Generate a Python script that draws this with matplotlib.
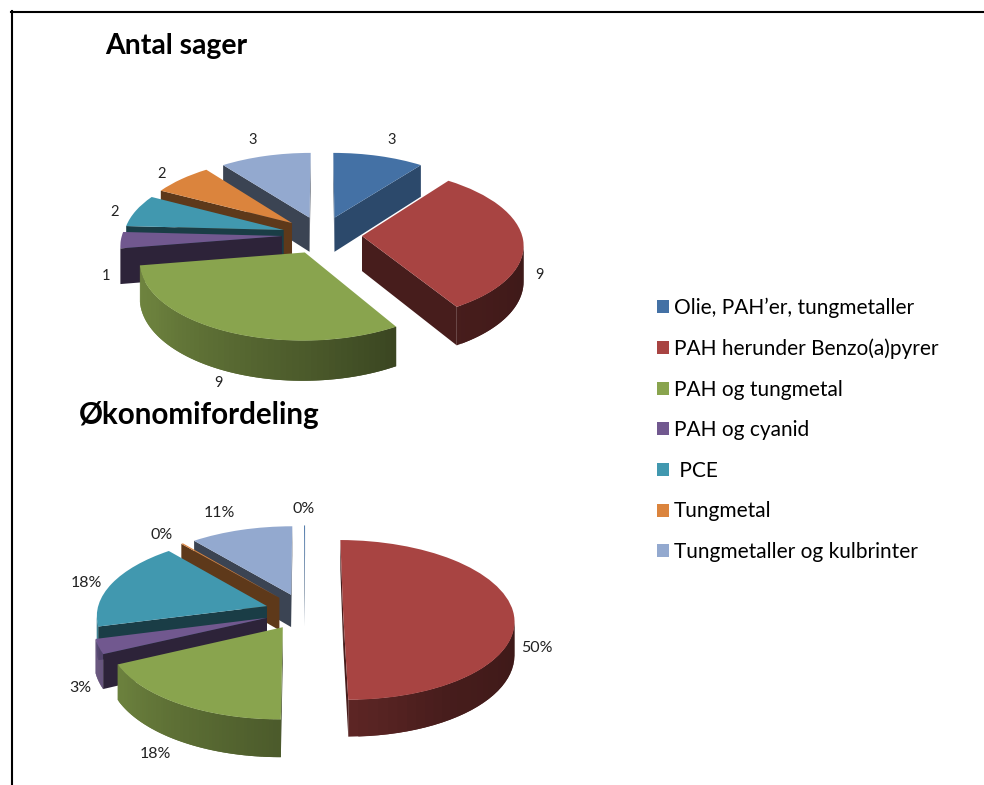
#!/usr/bin/env python3
"""Two exploded pseudo-3D pies (Antal sager / Oekonomifordeling) with a shared legend."""
import numpy as np
import matplotlib
matplotlib.use('Agg')
import matplotlib.pyplot as plt
from matplotlib.patches import Polygon
from matplotlib.transforms import Transform

plt.rcParams['font.family'] = ['Lato', 'DejaVu Sans']

CATEGORIES = ['Olie, PAH’er, tungmetaller', 'PAH herunder Benzo(a)pyrer', 'PAH og tungmetal',
              'PAH og cyanid', ' PCE', 'Tungmetal', 'Tungmetaller og kulbrinter']
COLORS = ['#4471a5', '#a84442', '#89a44e', '#71588f', '#4198af', '#db843d', '#93a9cf']
# how dark the straight cut faces are, per slice
CUT_SHADE = [0.65, 0.42, 0.42, 0.40, 0.40, 0.43, 0.40]

SAGER = [3, 9, 9, 1, 2, 2, 3]
SAGER_LABELS = ['3', '9', '9', '1', '2', '2', '3']
OKONOMI = [0.1, 50, 18, 3, 18, 0.2, 11]
OKONOMI_LABELS = ['0%', '50%', '18%', '3%', '18%', '0%', '11%']

# label anchor points in figure pixels
SAGER_LABEL_XY = [(392, 140), (539, 275), (218, 383), (106, 276), (115, 212), (162, 174), (253, 140)]
OKONOMI_LABEL_XY = [(304, 509), (537, 648), (155, 754), (80, 688), (86, 583), (162, 535), (219, 513)]


class PieProjection(Transform):
    """Tilt the flat pie plane into screen pixels, near side a bit bigger."""
    input_dims = 2
    output_dims = 2

    def __init__(self, cx, cy, rx, ry, k=0.105):
        super().__init__()
        self.cx, self.cy, self.rx, self.ry, self.k = cx, cy, rx, ry, k

    def scale(self, y):
        return 1.0 / (1.0 + self.k * y)

    def transform_non_affine(self, values):
        values = np.asarray(values, dtype=float)
        s = self.scale(values[:, 1])
        return np.column_stack([self.cx + self.rx * values[:, 0] * s,
                                self.cy - self.ry * values[:, 1] * s])


def arc_shade(theta):
    # outer wall gets darker going from left to right
    return np.interp(theta, [-180, -150, -90, -59, 0], [0.82, 0.78, 0.55, 0.42, 0.35])


def darker(color, f):
    return tuple(c * f for c in matplotlib.colors.to_rgb(color))


def draw_pie(ax, values, proj, explode, depth):
    wedges, _ = ax.pie(values, colors=COLORS, startangle=90, counterclock=False,
                       explode=[explode] * len(values), radius=1.0, frame=True,
                       wedgeprops={'linewidth': 0})
    mids = [np.deg2rad((w.theta1 + w.theta2) / 2) for w in wedges]
    order = np.argsort([-np.sin(m) for m in mids])
    z = 2.0
    for i in order:
        w = wedges[i]
        color = COLORS[i]
        t = np.deg2rad(np.linspace(w.theta1, w.theta2, 60))
        c = np.array(w.center)
        arc = np.column_stack([c[0] + np.cos(t), c[1] + np.sin(t)])
        # outer wall, small overlapping quads so the shading runs along it without seams
        pts = proj.transform_non_affine(arc)
        sc = proj.scale(arc[:, 1])
        for j in range(len(pts) - 1):
            if pts[j + 1, 0] - pts[j, 0] <= 0:
                continue
            e = min(j + 2, len(pts) - 1)
            theta = np.rad2deg(np.arctan2(np.sin(t[j]), np.cos(t[j])))
            col = darker(color, arc_shade(theta))
            quad = [pts[j], pts[e], pts[e] + [0, depth * sc[e]], pts[j] + [0, depth * sc[j]]]
            ax.add_patch(Polygon(quad, closed=True, facecolor=col, linewidth=0, zorder=z))
        # cut faces: centre->arc start and arc end->centre
        for a, b in [(c, arc[0]), (arc[-1], c)]:
            pa, pb = proj.transform_non_affine(np.array([a, b]))
            if pb[0] - pa[0] > 0:
                sa, sb = proj.scale(a[1]), proj.scale(b[1])
                quad = [pa, pb, pb + [0, depth * sb], pa + [0, depth * sa]]
                col = darker(color, CUT_SHADE[i])
                ax.add_patch(Polygon(quad, closed=True, facecolor=col, linewidth=0, zorder=z))
        w.set_transform(proj + ax.transData)
        w.set_zorder(z + 0.5)
        z += 1
    return wedges


def main():
    fig = plt.figure(figsize=(9.84, 7.85), dpi=100)
    ax = fig.add_axes([0, 0, 1, 1])

    top = draw_pie(ax, SAGER, PieProjection(322, 235, 160, 75), 0.25, 35)
    draw_pie(ax, OKONOMI, PieProjection(304, 611.5, 170, 79), 0.23, 33)

    # work in figure pixels
    ax.set_xlim(0, 984)
    ax.set_ylim(785, 0)
    ax.set_aspect('auto')
    ax.axis('off')

    for txt, (x, y) in zip(SAGER_LABELS, SAGER_LABEL_XY):
        ax.text(x, y, txt, ha='center', va='center', fontsize=10.5, color='#222222', zorder=40)
    for txt, (x, y) in zip(OKONOMI_LABELS, OKONOMI_LABEL_XY):
        ax.text(x, y, txt, ha='center', va='center', fontsize=11.5, color='#222222', zorder=40)

    ax.text(105, 46, 'Antal sager', fontsize=20.4, fontweight='bold', ha='left', va='center', zorder=40)
    ax.text(79, 415, 'Økonomifordeling', fontsize=21.3, fontweight='bold', ha='left', va='center', zorder=40)

    ax.legend(top, CATEGORIES, loc='upper left', bbox_to_anchor=(649, 289), bbox_transform=ax.transData,
              frameon=False, fontsize=15, labelspacing=0.99, handlelength=0.58, handleheight=0.58,
              handletextpad=0.22, borderpad=0.4, borderaxespad=0)

    # page border, top and left only
    ax.plot([11, 984], [12, 12], color='black', linewidth=1.5, clip_on=False, zorder=50)
    ax.plot([12, 12], [11, 785], color='black', linewidth=1.5, clip_on=False, zorder=50)

    fig.savefig('out.png', dpi=100)
    plt.close(fig)


if __name__ == '__main__':
    main()
